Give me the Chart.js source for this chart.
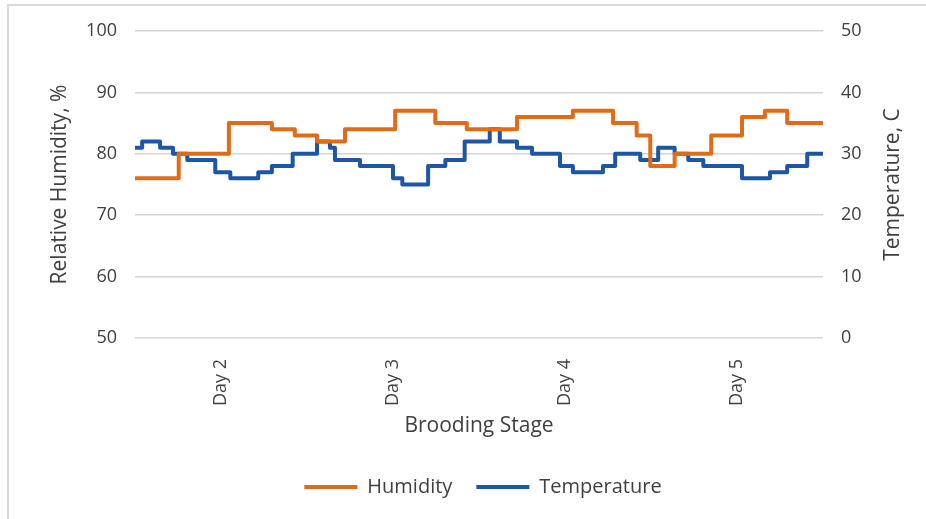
<!DOCTYPE html>
<html>
<head>
<meta charset="utf-8">
<script src="https://cdn.jsdelivr.net/npm/chart.js@4.4.1/dist/chart.umd.min.js"></script>
<style>
  body { margin: 0; background: #fff; }
  #wrap { position: relative; width: 926px; height: 519px; overflow: hidden; }
  #frame { position: absolute; left: 7px; top: 4px; width: 940px; height: 540px;
           border-left: 2px solid #d9d9d9; border-top: 2px solid #d9d9d9; }
  #mycanvas { position: absolute; left: 0; top: 0; }
</style>
</head>
<body>
<div id="wrap">
  <div id="frame"></div>
  <canvas id="mycanvas" width="926" height="519"></canvas>
</div>
<script>
// hours from start of record, value holds until next time
var humTimes  = [0, 6.1, 13.1, 19.1, 22.3, 25.4, 29.3, 36.3, 41.9, 46.3, 53.3, 61.1, 66.7, 70.0, 71.9, 75.3, 80.4, 84.7, 87.9, 91.0, 96];
var humValues = [76, 80, 85, 84, 83, 82, 84, 87, 85, 84, 86, 87, 85, 83, 78, 80, 83, 86, 87, 85, 85];

var tempTimes  = [0, 1.0, 3.5, 5.3, 7.3, 11.2, 13.3, 17.2, 19.1, 22.0, 25.4, 27.2, 27.9, 31.4, 36.0, 37.3, 40.9, 43.3, 46.0, 49.5, 50.9, 53.3, 55.4, 59.3, 61.1, 65.3, 67.0, 70.5, 73.0, 75.3, 77.2, 79.3, 84.7, 88.6, 91.0, 93.8, 96];
var tempValues = [31, 32, 31, 30, 29, 27, 26, 27, 28, 30, 32, 31, 29, 28, 26, 25, 28, 29, 32, 34, 32, 31, 30, 28, 27, 28, 30, 29, 31, 30, 29, 28, 26, 27, 28, 30, 30];

var dayTicks  = [12, 36, 60, 84];
var dayLabels = ['Day 2', 'Day 3', 'Day 4', 'Day 5'];

var humTicks  = [50, 60, 70, 80, 90, 100];
var tempTicks = [0, 10, 20, 30, 40, 50];

function pts(t, v) {
  var out = [];
  for (var i = 0; i < t.length; i++) out.push({x: t[i], y: v[i]});
  return out;
}

var txt = '#404040';
var tickFont = {family: 'Open Sans', size: 18};
var bigFont = {family: 'Open Sans', size: 20};
var titleFont = {family: 'Open Sans', size: 21};

// right axis title reads bottom-to-top like the left one
var rightTitle = {
  id: 'rightTitle',
  afterDraw: function(chart) {
    var ctx = chart.ctx;
    ctx.save();
    ctx.translate(893, (chart.chartArea.top + chart.chartArea.bottom) / 2);
    ctx.rotate(-Math.PI / 2);
    ctx.font = '21px "Open Sans"';
    ctx.fillStyle = txt;
    ctx.textAlign = 'center';
    ctx.textBaseline = 'middle';
    ctx.fillText('Temperature, C', 0, 0);
    ctx.restore();
  }
};

var ctx = document.getElementById('mycanvas');
var chart = new Chart(ctx, {
  type: 'line',
  data: {
    datasets: [
      {
        label: 'Humidity',
        data: pts(humTimes, humValues),
        yAxisID: 'y',
        borderColor: '#E06C1A',
        backgroundColor: '#E06C1A',
        borderWidth: 4,
        stepped: 'before',
        pointRadius: 0,
        borderJoinStyle: 'round'
      },
      {
        label: 'Temperature',
        data: pts(tempTimes, tempValues),
        yAxisID: 'y1',
        borderColor: '#1E56A6',
        backgroundColor: '#1E56A6',
        borderWidth: 4,
        stepped: 'before',
        pointRadius: 0,
        borderJoinStyle: 'round'
      }
    ]
  },
  options: {
    responsive: false,
    animation: false,
    layout: {padding: {top: 31, left: 40, right: 0, bottom: 12}},
    plugins: {
      tooltip: {enabled: false},
      legend: {
        position: 'bottom',
        labels: {
          usePointStyle: true,
          pointStyle: 'line',
          pointStyleWidth: 53,
          padding: 24,
          color: txt,
          font: bigFont
        }
      }
    },
    scales: {
      x: {
        type: 'linear',
        min: 0,
        max: 96,
        grid: {display: false},
        border: {display: false},
        afterBuildTicks: function(s) {
          s.ticks = dayTicks.map(function(v) { return {value: v}; });
        },
        afterFit: function(s) {
          s.height = s.chart.height - 12 - s.chart.legend.height - 338;
        },
        ticks: {
          minRotation: 90,
          maxRotation: 90,
          padding: 13,
          color: txt,
          font: tickFont,
          callback: function(v) { return dayLabels[dayTicks.indexOf(v)]; }
        },
        title: {display: true, text: 'Brooding Stage', color: txt,
                font: titleFont, padding: {top: 0, bottom: 14}}
      },
      y: {
        position: 'left',
        min: 50,
        max: 100,
        afterBuildTicks: function(s) {
          s.ticks = humTicks.map(function(v) { return {value: v}; });
        },
        afterFit: function(s) { s.width = 95; },
        grid: {color: '#d4d4d4', lineWidth: 1.5, drawTicks: false},
        border: {display: false},
        ticks: {padding: 18, color: txt, font: tickFont},
        title: {display: true, text: 'Relative Humidity, %', color: txt,
                font: titleFont, padding: {top: 7, bottom: 0}}
      },
      y1: {
        position: 'right',
        min: 0,
        max: 50,
        afterBuildTicks: function(s) {
          s.ticks = tempTicks.map(function(v) { return {value: v}; });
        },
        afterFit: function(s) { s.width = 103; },
        grid: {drawOnChartArea: false, drawTicks: false},
        border: {display: false},
        ticks: {padding: 18, color: txt, font: tickFont}
      }
    }
  },
  plugins: [rightTitle]
});
</script>
</body>
</html>
